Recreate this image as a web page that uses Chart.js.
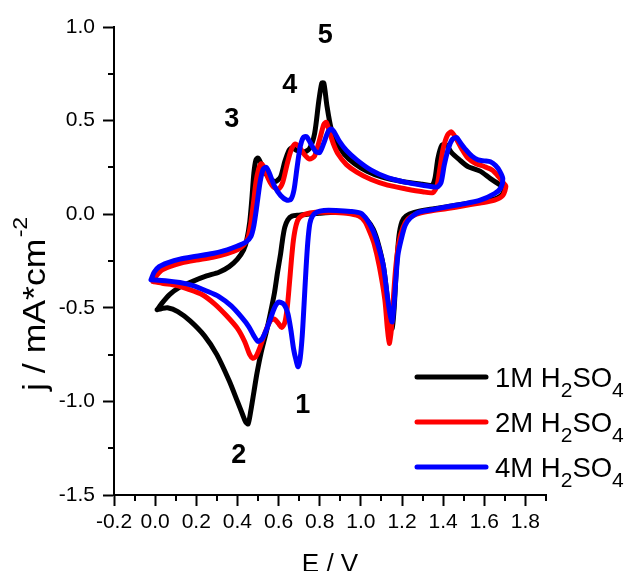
<!DOCTYPE html>
<html>
<head>
<meta charset="utf-8">
<script src="https://cdn.jsdelivr.net/npm/chart.js@4.4.1/dist/chart.umd.min.js"></script>
<style>
  html, body { margin: 0; padding: 0; background: #fff; }
</style>
</head>
<body>
<canvas id="cv" width="629" height="571"></canvas>
<script>
// cyclic voltammograms, 3 acid concentrations
const concentrations = ["1M", "2M", "4M"];
const colors = ["#000000", "#ff0000", "#0000ff"];

const e1M = [0.01, 0.03, 0.07, 0.12, 0.18, 0.25, 0.31, 0.36, 0.40, 0.43, 0.445, 0.46, 0.47, 0.48, 0.49, 0.50, 0.515, 0.535, 0.56, 0.585, 0.61, 0.63, 0.65, 0.665, 0.69, 0.72, 0.75, 0.775, 0.795, 0.81, 0.82, 0.835, 0.855, 0.88, 0.92, 0.97, 1.03, 1.1, 1.2, 1.3, 1.345, 1.36, 1.375, 1.395, 1.415, 1.44, 1.48, 1.52, 1.58, 1.63, 1.68, 1.70,
  1.69, 1.66, 1.6, 1.5, 1.42, 1.33, 1.26, 1.22, 1.2, 1.185, 1.172, 1.162, 1.152, 1.142, 1.128, 1.11, 1.085, 1.06, 1.03, 1.0, 0.95, 0.88, 0.8, 0.74, 0.70, 0.665, 0.645, 0.63, 0.62, 0.61, 0.595, 0.58, 0.56, 0.54, 0.515, 0.495, 0.48, 0.465, 0.452, 0.44, 0.425, 0.40, 0.36, 0.30, 0.24, 0.17, 0.11, 0.06, 0.03, 0.01];
const j1M = [-0.51, -0.48, -0.43, -0.39, -0.36, -0.33, -0.31, -0.28, -0.24, -0.19, -0.14, -0.04, 0.08, 0.22, 0.29, 0.30, 0.27, 0.22, 0.19, 0.175, 0.20, 0.28, 0.34, 0.355, 0.34, 0.33, 0.35, 0.43, 0.60, 0.70, 0.70, 0.58, 0.46, 0.39, 0.32, 0.27, 0.23, 0.20, 0.175, 0.16, 0.155, 0.19, 0.30, 0.37, 0.37, 0.33, 0.29, 0.255, 0.23, 0.19, 0.155, 0.15,
  0.11, 0.085, 0.07, 0.055, 0.04, 0.025, 0.01, -0.01, -0.04, -0.12, -0.3, -0.5, -0.61, -0.57, -0.44, -0.28, -0.16, -0.08, -0.03, -0.005, 0.01, 0.01, 0.005, 0.0, -0.005, -0.01, -0.03, -0.07, -0.13, -0.21, -0.31, -0.42, -0.53, -0.63, -0.74, -0.85, -0.95, -1.05, -1.12, -1.11, -1.07, -1.00, -0.89, -0.75, -0.65, -0.57, -0.52, -0.50, -0.505, -0.51];

const e2M = [-0.01, 0.005, 0.03, 0.07, 0.13, 0.2, 0.28, 0.35, 0.40, 0.43, 0.45, 0.465, 0.478, 0.49, 0.503, 0.515, 0.53, 0.55, 0.575, 0.60, 0.62, 0.64, 0.66, 0.68, 0.70, 0.725, 0.75, 0.775, 0.80, 0.82, 0.832, 0.845, 0.865, 0.89, 0.93, 0.98, 1.05, 1.13, 1.22, 1.3, 1.35, 1.37, 1.385, 1.40, 1.42, 1.44, 1.46, 1.49, 1.52, 1.56, 1.6, 1.64, 1.67, 1.69, 1.705,
  1.69, 1.65, 1.58, 1.5, 1.42, 1.33, 1.27, 1.23, 1.205, 1.185, 1.17, 1.158, 1.148, 1.138, 1.128, 1.117, 1.09, 1.065, 1.045, 1.02, 0.99, 0.93, 0.85, 0.78, 0.73, 0.70, 0.685, 0.672, 0.662, 0.652, 0.642, 0.63, 0.615, 0.60, 0.58, 0.56, 0.535, 0.51, 0.49, 0.475, 0.46, 0.435, 0.40, 0.345, 0.29, 0.23, 0.16, 0.10, 0.04, -0.01];
const j2M = [-0.36, -0.33, -0.30, -0.28, -0.26, -0.245, -0.23, -0.21, -0.19, -0.165, -0.13, -0.05, 0.06, 0.17, 0.24, 0.27, 0.25, 0.19, 0.145, 0.135, 0.17, 0.26, 0.34, 0.375, 0.36, 0.32, 0.295, 0.31, 0.40, 0.48, 0.49, 0.45, 0.38, 0.32, 0.265, 0.225, 0.185, 0.155, 0.135, 0.12, 0.115, 0.15, 0.25, 0.35, 0.42, 0.44, 0.41, 0.35, 0.30, 0.27, 0.255, 0.235, 0.20, 0.17, 0.15,
  0.10, 0.075, 0.06, 0.045, 0.03, 0.015, 0.0, -0.025, -0.07, -0.15, -0.28, -0.45, -0.62, -0.69, -0.60, -0.46, -0.28, -0.16, -0.10, -0.04, -0.01, 0.005, 0.01, 0.01, 0.0, -0.02, -0.06, -0.14, -0.25, -0.38, -0.50, -0.58, -0.605, -0.585, -0.56, -0.57, -0.63, -0.71, -0.76, -0.77, -0.75, -0.68, -0.61, -0.54, -0.48, -0.43, -0.40, -0.38, -0.37, -0.36];

const e4M = [-0.02, -0.005, 0.02, 0.06, 0.12, 0.2, 0.28, 0.35, 0.40, 0.44, 0.465, 0.48, 0.495, 0.51, 0.525, 0.54, 0.555, 0.58, 0.61, 0.64, 0.66, 0.675, 0.69, 0.705, 0.72, 0.735, 0.755, 0.78, 0.80, 0.82, 0.84, 0.855, 0.87, 0.895, 0.93, 0.98, 1.05, 1.13, 1.22, 1.3, 1.37, 1.39, 1.405, 1.425, 1.445, 1.465, 1.485, 1.51, 1.54, 1.57, 1.6, 1.63, 1.655, 1.675, 1.69,
  1.68, 1.65, 1.58, 1.5, 1.42, 1.35, 1.28, 1.24, 1.215, 1.195, 1.18, 1.17, 1.16, 1.152, 1.143, 1.13, 1.11, 1.085, 1.06, 1.03, 1.0, 0.95, 0.88, 0.82, 0.785, 0.765, 0.752, 0.742, 0.733, 0.724, 0.715, 0.705, 0.695, 0.685, 0.673, 0.66, 0.645, 0.625, 0.60, 0.58, 0.56, 0.54, 0.52, 0.50, 0.48, 0.455, 0.42, 0.37, 0.31, 0.25, 0.18, 0.12, 0.05, -0.02];
const j4M = [-0.35, -0.31, -0.28, -0.26, -0.24, -0.225, -0.21, -0.19, -0.17, -0.15, -0.12, -0.06, 0.05, 0.17, 0.24, 0.25, 0.22, 0.15, 0.10, 0.075, 0.08, 0.13, 0.25, 0.36, 0.41, 0.415, 0.38, 0.335, 0.33, 0.38, 0.44, 0.455, 0.44, 0.39, 0.34, 0.29, 0.235, 0.195, 0.17, 0.155, 0.145, 0.17, 0.26, 0.35, 0.40, 0.41, 0.38, 0.345, 0.31, 0.29, 0.285, 0.28, 0.26, 0.23, 0.19,
  0.14, 0.11, 0.075, 0.055, 0.04, 0.025, 0.01, -0.02, -0.06, -0.14, -0.22, -0.35, -0.50, -0.575, -0.54, -0.45, -0.28, -0.17, -0.09, -0.03, 0.005, 0.015, 0.02, 0.02, 0.01, -0.01, -0.05, -0.15, -0.3, -0.48, -0.65, -0.77, -0.815, -0.78, -0.72, -0.62, -0.53, -0.48, -0.47, -0.50, -0.56, -0.62, -0.665, -0.68, -0.65, -0.60, -0.55, -0.49, -0.44, -0.41, -0.38, -0.365, -0.355, -0.35];

// peak numbers written on the plot
const peakText = ["1", "2", "3", "4", "5"];
const peakE = [0.717, 0.407, 0.373, 0.654, 0.827];
const peakJ = [-1.010, -1.277, 0.515, 0.697, 0.967];

const FONT = '"Liberation Sans", Arial, Helvetica, sans-serif';

function pts(es, js) {
  return es.map((e, i) => ({ x: e, y: js[i] }));
}

const series = [pts(e1M, j1M), pts(e2M, j2M), pts(e4M, j4M)];

const datasets = series.map((d, i) => ({
  label: concentrations[i] + " H\u2082SO\u2084",
  data: d,
  showLine: true,
  borderColor: colors[i],
  backgroundColor: colors[i],
  borderWidth: 5,
  pointRadius: 0,
  tension: 0.25,
  borderJoinStyle: "round",
  borderCapStyle: "round",
  order: 3 - i   // blue on top
}));

function isMajorX(v) { return Math.abs(Math.round(v * 10)) % 2 === 0; }
function isMajorY(v) { return Math.abs(Math.round(v * 4)) % 2 === 0; }

// text with sub/superscripts: parts = [[text, shift]], shift 0 normal, 1 sub
function richText(ctx, parts, x, y, size, subSize) {
  let cx = x;
  parts.forEach(p => {
    const s = p[1] === 0 ? size : subSize;
    ctx.font = s + "px " + FONT;
    const dy = p[1] === 1 ? 10 : 0;
    ctx.fillText(p[0], cx, y + dy);
    cx += ctx.measureText(p[0]).width;
  });
}

const overlay = {
  id: "overlay",
  afterDraw(chart) {
    const ctx = chart.ctx;
    const xs = chart.scales.x, ys = chart.scales.y;
    const area = chart.chartArea;
    ctx.save();
    ctx.strokeStyle = "#000";
    ctx.lineWidth = 2;
    // minor ticks
    xs.ticks.forEach(t => {
      if (isMajorX(t.value)) return;
      const px = Math.round(xs.getPixelForValue(t.value));
      ctx.beginPath(); ctx.moveTo(px, area.bottom); ctx.lineTo(px, area.bottom + 6); ctx.stroke();
    });
    ys.ticks.forEach(t => {
      if (isMajorY(t.value)) return;
      const py = Math.round(ys.getPixelForValue(t.value));
      ctx.beginPath(); ctx.moveTo(area.left, py); ctx.lineTo(area.left - 6, py); ctx.stroke();
    });

    ctx.fillStyle = "#000";
    ctx.textBaseline = "alphabetic";

    // peak numbers
    ctx.textAlign = "center";
    ctx.font = "bold 27px " + FONT;
    peakText.forEach((t, i) => {
      ctx.fillText(t, xs.getPixelForValue(peakE[i]), ys.getPixelForValue(peakJ[i]) + 9.7);
    });

    // axis titles
    ctx.font = "26px " + FONT;
    ctx.fillText("E / V", (area.left + area.right) / 2, 572);

    ctx.save();
    ctx.translate(45, 391);
    ctx.rotate(-Math.PI / 2);
    ctx.scale(1.15, 1);
    ctx.textAlign = "left";
    ctx.font = "31px " + FONT;
    const main = "j / mA*cm";
    ctx.fillText(main, 0, 0);
    const w = ctx.measureText(main).width;
    ctx.font = "20px " + FONT;
    ctx.fillText("-2", w + 1, -18);
    ctx.restore();

    // legend
    ctx.textAlign = "left";
    concentrations.forEach((c, i) => {
      const y = 377 + i * 45;
      ctx.strokeStyle = colors[i];
      ctx.lineWidth = 5;
      ctx.lineCap = "round";
      ctx.beginPath(); ctx.moveTo(417, y); ctx.lineTo(486, y); ctx.stroke();
      ctx.fillStyle = "#000";
      richText(ctx, [[c + " H", 0], ["2", 1], ["SO", 0], ["4", 1]], 495, y + 10, 27.5, 21);
    });
    ctx.restore();
  }
};

new Chart("cv", {
  type: "scatter",
  data: { datasets: datasets },
  options: {
    responsive: false,
    animation: false,
    layout: { padding: { left: 0, right: 83, top: 27, bottom: 0 } },
    plugins: { legend: { display: false }, tooltip: { enabled: false } },
    scales: {
      x: {
        type: "linear",
        min: -0.2,
        max: 1.9,
        afterFit: s => { s.height = 76; },
        border: { display: true, color: "#000", width: 2 },
        grid: {
          drawOnChartArea: false,
          drawTicks: true,
          tickLength: 11,
          tickWidth: 2,
          tickColor: c => isMajorX(c.tick.value) ? "#000" : "rgba(0,0,0,0)"
        },
        ticks: {
          stepSize: 0.1,
          autoSkip: false,
          maxRotation: 0,
          padding: 4,
          color: "#000",
          font: { family: FONT, size: 21 },
          callback: v => isMajorX(v) ? v.toFixed(1) : ""
        }
      },
      y: {
        type: "linear",
        min: -1.5,
        max: 1.0,
        afterFit: s => { s.width = 114; },
        border: { display: true, color: "#000", width: 2 },
        grid: {
          drawOnChartArea: false,
          drawTicks: true,
          tickLength: 11,
          tickWidth: 2,
          tickColor: c => isMajorY(c.tick.value) ? "#000" : "rgba(0,0,0,0)"
        },
        ticks: {
          stepSize: 0.25,
          autoSkip: false,
          padding: 8,
          color: "#000",
          font: { family: FONT, size: 21 },
          callback: v => isMajorY(v) ? v.toFixed(1) : ""
        }
      }
    }
  },
  plugins: [overlay]
});
</script>
</body>
</html>
